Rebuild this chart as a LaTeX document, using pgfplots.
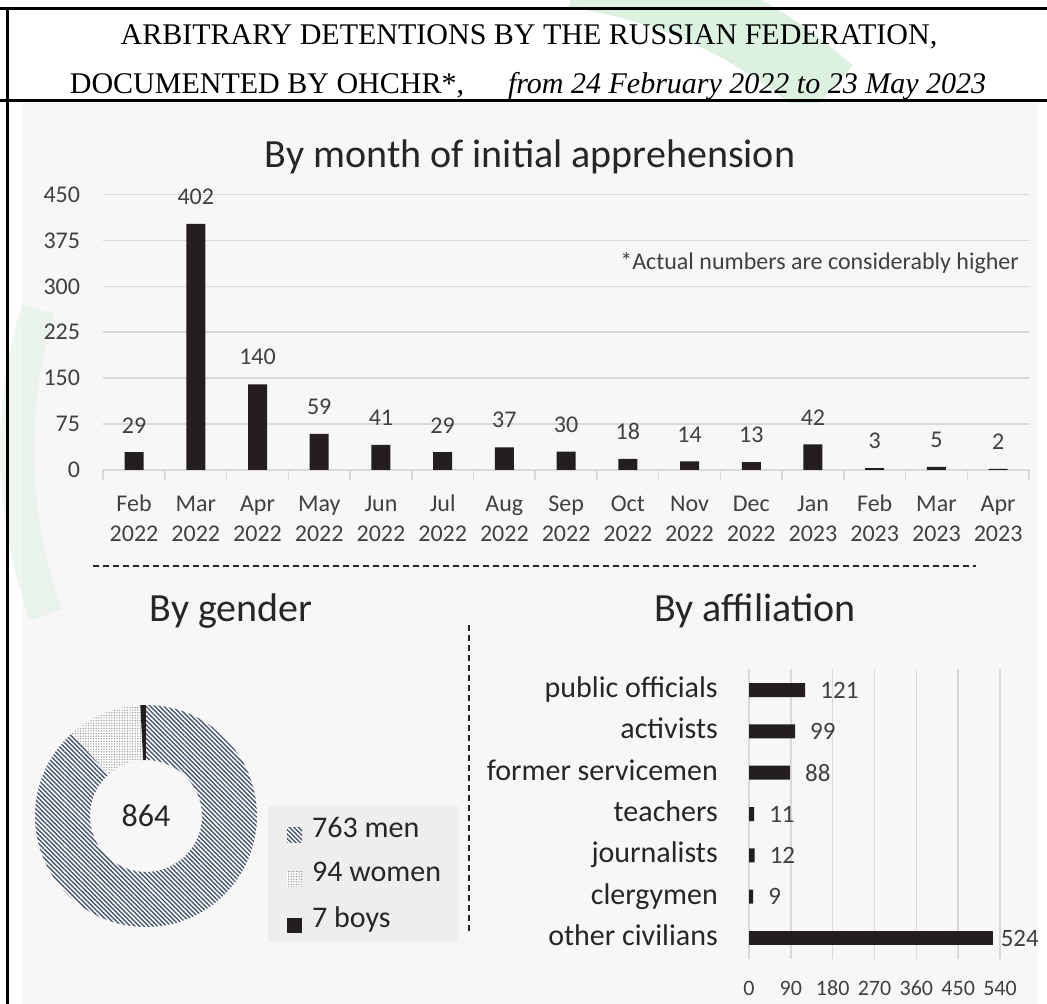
\documentclass[border=0pt]{standalone}
\usepackage{fontspec}
\setmainfont{Carlito}
\newfontfamily\timesf{Liberation Serif}
\usepackage{pgfplots}
\pgfplotsset{compat=1.18}
\usepackage{pgfplotstable}
\usetikzlibrary{calc,patterns.meta}
\definecolor{gridgray}{HTML}{D9D9D9}
\definecolor{textgray}{HTML}{404040}
\definecolor{darktext}{HTML}{262626}
\definecolor{barblack}{HTML}{231F20}
\definecolor{panel}{HTML}{F7F7F7}
\definecolor{legendbg}{HTML}{EEEEEE}
\definecolor{mencol}{HTML}{44546A}
\definecolor{womencol}{HTML}{9A9A9A}
\definecolor{greenwm}{HTML}{DDF1E1}
\pgfplotsset{/pgf/number format/assume math mode=true}

\pgfplotstableread{
idx val
0 29
1 402
2 140
3 59
4 41
5 29
6 37
7 30
8 18
9 14
10 13
11 42
12 3
13 5
14 2
}\monthdata

\pgfplotstableread{
idx val
6 121
5 99
4 88
3 11
2 12
1 9
}\affdata

\pgfplotstableread{
idx val
0 524
}\affother

\newcommand{\men}{763}
\newcommand{\women}{94}
\newcommand{\boys}{7}

\newcommand{\ringsector}[3]{%
  \path[#1] ($(axis cs:0,0)+(#2:111pt)$) arc[start angle=#2, end angle=#3, radius=111pt]
    -- ($(axis cs:0,0)+(#3:56pt)$) arc[start angle=#3, end angle=#2, radius=56pt] -- cycle;}

\begin{document}
\begin{tikzpicture}[x=1pt,y=1pt]
\path[use as bounding box] (0,0) rectangle (1047,1004);
\fill[white] (0,0) rectangle (1047,1004);
% watermark
\draw[line width=70pt, greenwm] (507,554) ++(48:482) arc[start angle=48, end angle=82, radius=482];
% panel
\fill[panel] (22,0) rectangle (1038,901);
\draw[line width=34pt, greenwm, opacity=0.5] (499,554) ++(163:482) arc[start angle=163, end angle=200, radius=482];
% frame
\draw[line width=3pt, black] (0,995) -- (1047,995);
\draw[line width=3pt, black] (0,903) -- (1047,903);
\draw[line width=3pt, black] (7,996.5) -- (7,0);
% main titles
\node[anchor=base, inner sep=0pt, font=\timesf\fontsize{30}{36}\selectfont] at (529,959) {ARBITRARY DETENTIONS BY THE RUSSIAN FEDERATION,};
\node[anchor=base, inner sep=0pt, font=\timesf\fontsize{30}{36}\selectfont] at (528,910) {DOCUMENTED BY OHCHR*,\hspace{44pt}\textit{from 24 February 2022 to 23 May 2023}};
% section titles
\node[anchor=base, inner sep=0pt, text=darktext, font=\fontsize{40}{48}\selectfont] at (530,836) {By month of initial apprehension};
\node[anchor=base, inner sep=0pt, text=darktext, font=\fontsize{40}{48}\selectfont] at (231,382) {By gender};
\node[anchor=base, inner sep=0pt, text=darktext, font=\fontsize{40}{48}\selectfont] at (755,382) {By affiliation};
% annotation
\node[anchor=east, inner sep=0pt, text=textgray, font=\fontsize{24}{28}\selectfont] at (1019,741) {*Actual numbers are considerably higher};
% dashed separators
\draw[line width=1.4pt, darktext, dash pattern=on 6pt off 4pt] (93,438) -- (976,438);
\draw[line width=1.4pt, darktext, dash pattern=on 6pt off 4pt] (469,379) -- (469,72);

% monthly bar chart
\begin{axis}[
  at={(103.2pt,534pt)}, anchor=south west,
  scale only axis, width=925.8pt, height=275.5pt,
  xmin=-0.5, xmax=14.5, ymin=0, ymax=450,
  ybar, bar width=19pt, clip=false,
  axis line style={draw=none},
  ytick={0,75,...,450},
  ymajorgrids, major grid style={gridgray, line width=1.5pt},
  xtick={0,...,14},
  xticklabels={{\strut Feb\\2022},{\strut Mar\\2022},{\strut Apr\\2022},{\strut May\\2022},{\strut Jun\\2022},{\strut Jul\\2022},{\strut Aug\\2022},{\strut Sep\\2022},{\strut Oct\\2022},{\strut Nov\\2022},{\strut Dec\\2022},{\strut Jan\\2023},{\strut Feb\\2023},{\strut Mar\\2023},{\strut Apr\\2023}},
  minor xtick={-0.5,0.5,...,14.5},
  tick align=outside,
  major tick length=0pt,
  minor tick length=10pt,
  minor tick style={gridgray, line width=1.5pt},
  xtick pos=left, ytick pos=left,
  xticklabel style={font=\fontsize{24}{30}\selectfont, align=center, text=textgray, inner sep=0pt, anchor=north, yshift=-20pt},
  yticklabel style={font=\fontsize{24}{28}\selectfont, text=textgray, inner sep=0pt, anchor=east, xshift=-23pt},
]
\addplot[fill=barblack, draw=none, point meta=y, nodes near coords,
  every node near coord/.append style={font=\fontsize{24}{28}\selectfont, text=textgray, inner sep=0pt, anchor=south, yshift=19pt}]
  table[x=idx, y=val]{\monthdata};
\end{axis}

% affiliation bar chart
\begin{axis}[
  at={(749pt,45.33pt)}, anchor=south west,
  scale only axis, width=251pt, height=289.33pt,
  xmin=0, xmax=540, ymin=-0.5, ymax=6.5,
  xbar, bar width=14pt, clip=false,
  axis line style={draw=none},
  major tick length=0pt,
  xtick={0,90,...,540},
  xmajorgrids, major grid style={gridgray, line width=1.5pt},
  ytick={0,...,6},
  yticklabels={other civilians,clergymen,journalists,teachers,former servicemen,activists,public officials},
  xtick pos=left, ytick pos=left,
  xticklabel style={font=\fontsize{22}{26}\selectfont, text=textgray, inner sep=0pt, anchor=north, yshift=-22pt},
  yticklabel style={font=\fontsize{30}{36}\selectfont, text=darktext, inner sep=0pt, anchor=east, xshift=-31pt, text height=21pt, text depth=6pt},
]
\addplot[fill=barblack, draw=none, bar shift=0pt, point meta=x, nodes near coords,
  every node near coord/.append style={font=\fontsize{25}{30}\selectfont, text=textgray, inner sep=0pt, anchor=west, xshift=15pt}]
  table[x=val, y=idx]{\affdata};
\addplot[fill=barblack, draw=none, bar shift=0pt, point meta=x, nodes near coords,
  every node near coord/.append style={font=\fontsize{25}{30}\selectfont, text=textgray, inner sep=0pt, anchor=west, xshift=8pt}]
  table[x=val, y=idx]{\affother};
\end{axis}

% donut
\pgfmathsetmacro{\tot}{\men+\women+\boys}
\pgfmathsetmacro{\aA}{90-\men/\tot*360}
\pgfmathsetmacro{\aB}{\aA-\women/\tot*360}
\pgfmathsetmacro{\aC}{\aB-\boys/\tot*360}
\begin{axis}[
  at={(146pt,188pt)}, anchor=center, hide axis,
  scale only axis, width=222pt, height=222pt,
  xmin=-1, xmax=1, ymin=-1, ymax=1, clip=false,
]
\addplot[draw=none] coordinates {(0,0)};
\ringsector{preaction={fill=white}, pattern={Lines[angle=-45,distance=3.2pt,line width=1.4pt]}, pattern color=mencol}{90}{\aA}
\ringsector{preaction={fill=white}, pattern={Dots[distance=2.6pt,radius=0.75pt]}, pattern color=womencol}{\aA}{\aB}
\ringsector{fill=barblack}{\aB}{\aC}
\node[font=\fontsize{32}{38}\selectfont, text=darktext] at (axis cs:0,0) {864};
\end{axis}

% legend
\fill[legendbg] (268,62) rectangle (458,198);
\path[preaction={fill=white}, pattern={Lines[angle=-45,distance=3.2pt,line width=1.4pt]}, pattern color=mencol] (287,161) rectangle (302,176);
\path[preaction={fill=white}, pattern={Dots[distance=2.6pt,radius=0.75pt]}, pattern color=womencol] (287,117) rectangle (302,132);
\fill[barblack] (287,71) rectangle (302,86);
\node[anchor=base west, inner sep=0pt, text=darktext, font=\fontsize{30}{36}\selectfont] at (312,166) {763 men};
\node[anchor=base west, inner sep=0pt, text=darktext, font=\fontsize{30}{36}\selectfont] at (312,122) {94 women};
\node[anchor=base west, inner sep=0pt, text=darktext, font=\fontsize{30}{36}\selectfont] at (312,76) {7 boys};
\end{tikzpicture}
\end{document}
